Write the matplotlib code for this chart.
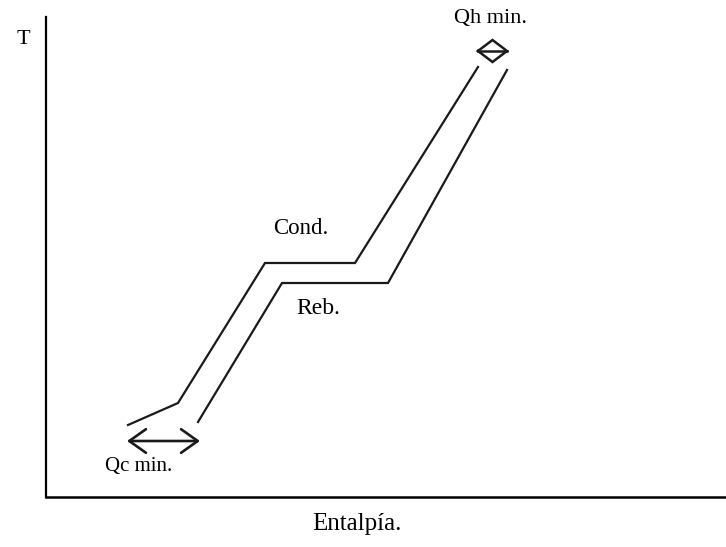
"""
Composite curves (T vs. enthalpy) with minimum utility targets
"""

import matplotlib

matplotlib.use("Agg")
from matplotlib import pyplot as plt
from matplotlib.patches import FancyArrowPatch

plt.rcParams["font.family"] = ["Liberation Serif", "DejaVu Serif"]

# Hot composite curve (enthalpy, temperature), arbitrary units
hot_h = [82, 132, 219, 309, 432]
hot_t = [72, 94, 234, 234, 430]

# Cold composite curve
cold_h = [152, 236, 342, 461]
cold_t = [75, 214, 214, 427]

# Minimum utility spans
qh_span = [432, 461]
qh_level = 446
qc_span = [81, 154]
qc_level = 56

ink = "#1a1a1a"

fig = plt.figure(figsize=(7.26, 5.47), dpi=100)
ax = fig.add_axes([46 / 726, 50 / 547, 680 / 726, 480 / 547])
ax.set_xlim(0, 680)
ax.set_ylim(0, 480)
ax.set_xticks([])
ax.set_yticks([])
for side in ["top", "right"]:
    ax.spines[side].set_visible(False)
ax.spines["left"].set_linewidth(1.6)
ax.spines["bottom"].set_linewidth(1.8)

ax.plot(hot_h, hot_t, color=ink, lw=1.6, solid_joinstyle="miter")
ax.plot(cold_h, cold_t, color=ink, lw=1.6, solid_joinstyle="miter")

# Qh min: short double arrow whose heads close into a diamond
mid = (qh_span[0] + qh_span[1]) / 2
half = 11
ax.plot(
    [qh_span[0], mid, qh_span[1], mid, qh_span[0]],
    [qh_level, qh_level + half, qh_level, qh_level - half, qh_level],
    color=ink,
    lw=1.8,
    solid_joinstyle="miter",
)
ax.plot(qh_span, [qh_level, qh_level], color=ink, lw=1.8)

# Qc min: double arrow
arrow = FancyArrowPatch(
    (qc_span[0], qc_level),
    (qc_span[1], qc_level),
    arrowstyle="<->,head_length=1.2,head_width=0.85",
    mutation_scale=10,
    shrinkA=0,
    shrinkB=0,
    color=ink,
    lw=1.9,
)
ax.add_patch(arrow)

ax.text(-23, 457, "T", fontsize=16, ha="center", va="center", clip_on=False)
ax.text(444, 479, "Qh min.", fontsize=16, ha="center", va="center", clip_on=False)
ax.text(255, 269, "Cond.", fontsize=16.5, ha="center", va="center")
ax.text(272, 189, "Reb.", fontsize=17, ha="center", va="center")
ax.text(93, 31, "Qc min.", fontsize=15, ha="center", va="center")
fig.text(357 / 726, 1 - 524 / 547, "Entalpía.", fontsize=18, ha="center", va="center")

fig.savefig("out.png", dpi=100)
